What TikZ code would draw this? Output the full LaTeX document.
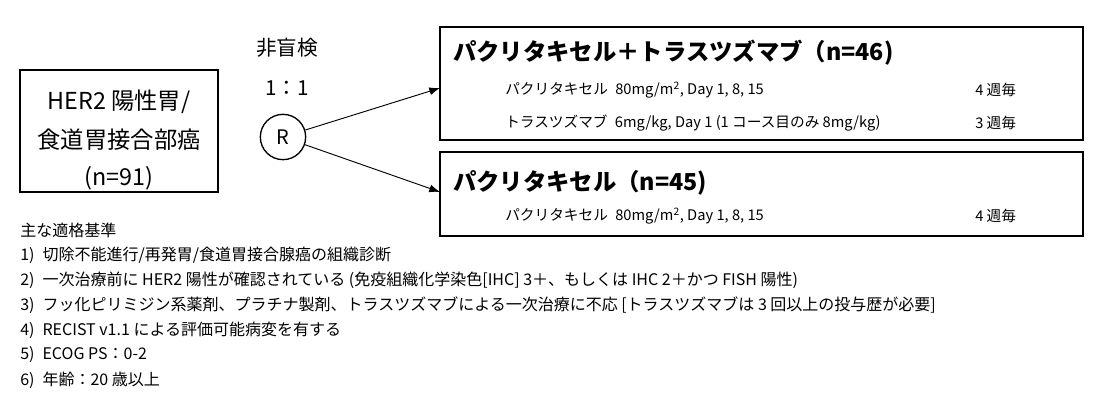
\documentclass[tikz,border=0pt]{standalone}
\usepackage{fontspec}
\setmainfont{Noto Sans CJK JP}
\usetikzlibrary{arrows.meta}
\begin{document}
\begin{tikzpicture}[x=0.75pt,y=-0.75pt,
 box/.style={draw,line width=1pt},
 lt/.style={anchor=west,font=\fontsize{11}{13}\selectfont,inner sep=0},
 cr/.style={anchor=west,font=\fontsize{12}{14}\selectfont,inner sep=0},
 lb/.style={font=\fontsize{17.5}{20}\selectfont},
 arr/.style={-{Latex[length=8pt,width=6pt]},line width=0.7pt}]
\useasboundingbox (0,0) rectangle (1100,402);
\draw[box] (20,70) rectangle (218,192);
\node[lb] (l1) at (119,102) {HER2 陽性胃/};
\node[lb] (l2) at (119,140) {食道胃接合部癌};
\node[lb] (l3) at (119,178) {(n=91)};
\node[font=\fontsize{15.5}{18}\selectfont] (ob) at (287,48) {非盲検};
\node[font=\fontsize{15.5}{18}\selectfont] (ra) at (287,88) {1：1};
\node[draw,circle,line width=1pt,minimum size=34pt,font=\fontsize{15}{17}\selectfont] (R) at (283,137) {R};
\draw[box] (440,27) rectangle (1083,140);
\draw[box] (440,152) rectangle (1083,236);
\coordinate (t) at (440,88); \coordinate (b) at (440,192);
\draw[arr] (R) -- (t);
\draw[arr] (R) -- (b);
\node[anchor=west,inner sep=0,font=\fontsize{17.5}{20}\selectfont\bfseries] (h1) at (453,53) {パクリタキセル＋トラスツズマブ（n=46)};
\node[lt] (a1) at (505,90) {パクリタキセル\enspace 80mg/m\textsuperscript{2}, Day 1, 8, 15};
\node[lt] (a2) at (975,90) {4 週毎};
\node[lt] (b1) at (505,123) {トラスツズマブ\enspace 6mg/kg, Day 1 (1 コース目のみ 8mg/kg)};
\node[lt] (b2) at (975,123) {3 週毎};
\node[anchor=west,inner sep=0,font=\fontsize{17.5}{20}\selectfont\bfseries] (h2) at (453,183) {パクリタキセル（n=45)};
\node[lt] (c1) at (505,216) {パクリタキセル\enspace 80mg/m\textsuperscript{2}, Day 1, 8, 15};
\node[lt] (c2) at (975,216) {4 週毎};
\node[cr] (k0) at (20,230) {主な適格基準};
\node[cr] (k1) at (20,255) {1)\enspace 切除不能進行/再発胃/食道胃接合腺癌の組織診断};
\node[cr] (k2) at (20,280) {2)\enspace 一次治療前に HER2 陽性が確認されている (免疫組織化学染色[IHC] 3＋、もしくは IHC 2＋かつ FISH 陽性)};
\node[cr] (k3) at (20,305) {3)\enspace フッ化ピリミジン系薬剤、プラチナ製剤、トラスツズマブによる一次治療に不応 [トラスツズマブは 3 回以上の投与歴が必要]};
\node[cr] (k4) at (20,330) {4)\enspace RECIST v1.1 による評価可能病変を有する};
\node[cr] (k5) at (20,355) {5)\enspace ECOG PS：0-2};
\node[cr] (k6) at (20,380) {6)\enspace 年齢：20 歳以上};
\end{tikzpicture}
\end{document}
